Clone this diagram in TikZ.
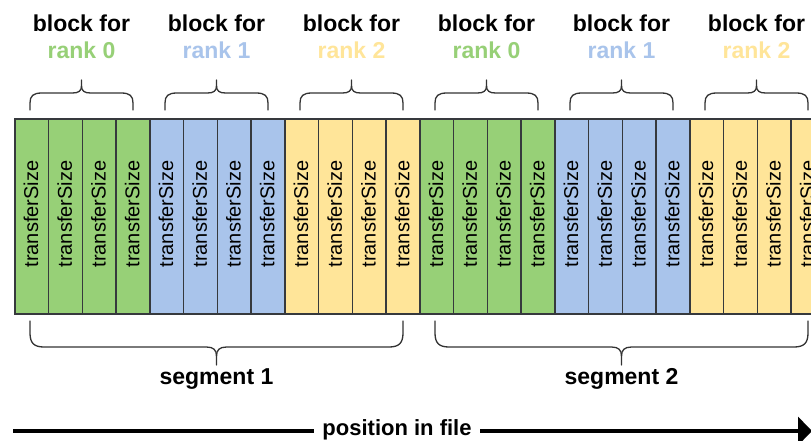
\documentclass[tikz,border=0pt]{standalone}
\usepackage{fontspec}
\setmainfont{Liberation Sans}
\usetikzlibrary{arrows.meta}
\definecolor{cgreen}{HTML}{97D077}
\definecolor{cblue}{HTML}{A9C4EB}
\definecolor{cyellow}{HTML}{FFE599}
\definecolor{cstroke}{HTML}{36393D}
\definecolor{cbrace}{HTML}{333333}
\newcommand\mytopbrace[1]{%
  \draw[brace] ({#1-51.5},110) -- ({#1-51.5},103) .. controls ({#1-51.5},96) and ({#1-48.5},93) .. ({#1-39.5},93) -- ({#1-9},93) .. controls ({#1-3},93) and ({#1},91) .. ({#1},86) -- ({#1},80);
  \draw[brace] ({#1+51.5},110) -- ({#1+51.5},103) .. controls ({#1+51.5},96) and ({#1+48.5},93) .. ({#1+39.5},93) -- ({#1+9},93) .. controls ({#1+3},93) and ({#1},91) .. ({#1},86);
}
\newcommand\mybotbrace[2]{%
  \draw[brace] ({#1-#2},321) -- ({#1-#2},333) .. controls ({#1-#2},343) and ({#1-#2+4},347) .. ({#1-#2+14},347) -- ({#1-10},347) .. controls ({#1-3},347) and ({#1},350) .. ({#1},356) -- ({#1},365);
  \draw[brace] ({#1+#2},321) -- ({#1+#2},333) .. controls ({#1+#2},343) and ({#1+#2-4},347) .. ({#1+#2-14},347) -- ({#1+10},347) .. controls ({#1+3},347) and ({#1},350) .. ({#1},356);
}
\begin{document}
\begin{tikzpicture}[x=1pt,y=-1pt,
  cell/.style={draw=cstroke, line width=1.6pt, minimum width=33.75pt, minimum height=195pt, inner sep=0pt, anchor=north west},
  ts/.style={rotate=90, inner sep=0pt, font=\fontsize{20}{24}\selectfont},
  ttl/.style={font=\bfseries\fontsize{23}{27}\selectfont, inner sep=0pt, anchor=base},
  brace/.style={draw=cbrace, line width=1.3pt, line join=round, line cap=round}
]
\useasboundingbox (0,0) rectangle (811,441);
\clip (0,0) rectangle (811,441);
\fill[white] (0,0) rectangle (811,441);
\foreach \i in {0,...,23} {
  \pgfmathtruncatemacro\b{mod(floor(\i/4),3)}
  \ifcase\b \def\cc{cgreen}\or \def\cc{cblue}\or \def\cc{cyellow}\fi
  \node[cell, fill=\cc] (c\i) at ({14+\i*33.75},118) {};
  \node[ts] (t\i) at ({14+(\i+0.5)*33.75},214) {transferSize};
}
\foreach \k/\r/\col in {0/0/cgreen,1/1/cblue,2/2/cyellow,3/0/cgreen,4/1/cblue,5/2/cyellow} {
  \node[ttl] (bf\k) at ({81.5+135*\k},32) {block for};
  \node[ttl, text=\col] (rk\k) at ({81.5+135*\k},59) {rank \r};
  \mytopbrace{81.5+135*\k}
}
\mybotbrace{216.5}{186.5}
\mybotbrace{621.5}{186.5}
\node[ttl] (seg1) at (216.5,384) {segment 1};
\node[ttl] (seg2) at (621.5,384) {segment 2};
\coordinate (as) at (13,431);
\coordinate (ae) at (812,431);
\draw[line width=4pt, -{Triangle[length=14pt,width=28pt]}] (as) -- (ae);
\node[font=\bfseries\fontsize{22}{26}\selectfont, fill=white, inner xsep=8pt, inner ysep=2pt, anchor=base] (pos) at (397,435) {position in file};
\end{tikzpicture}
\end{document}
